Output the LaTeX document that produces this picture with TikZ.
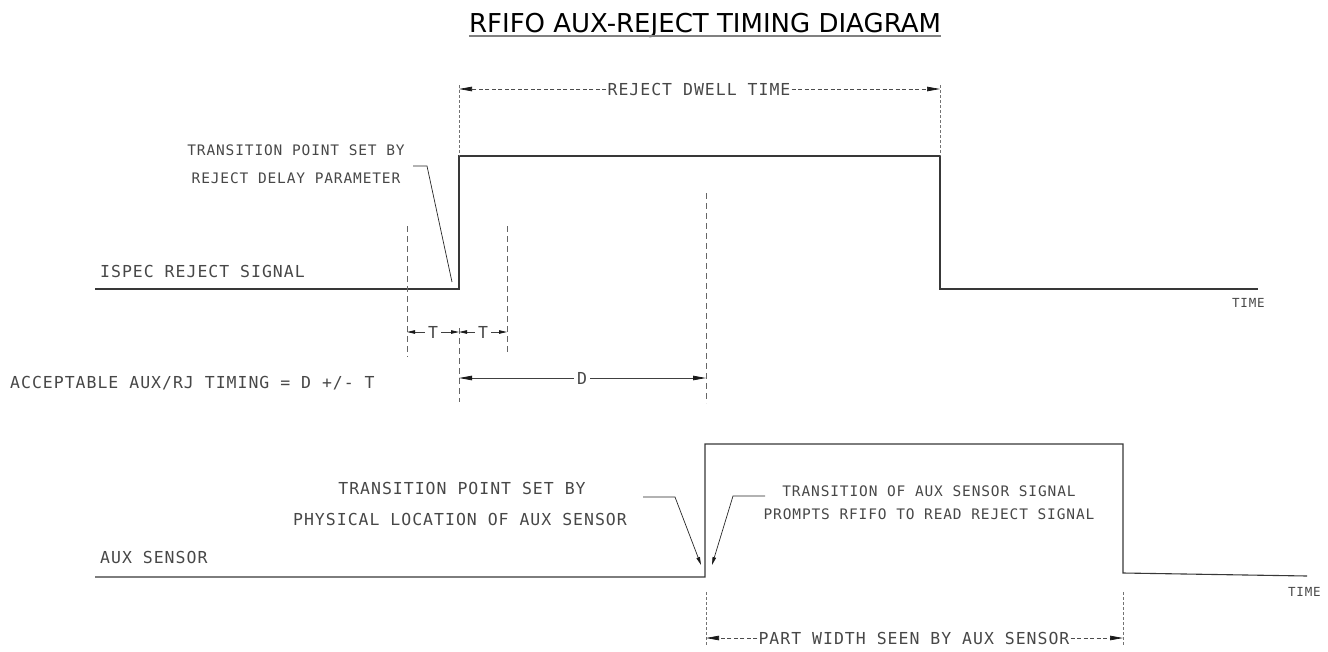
\documentclass[tikz,border=0pt]{standalone}
\usepackage{fontspec}
\usetikzlibrary{arrows.meta}
\newfontfamily\cad[LetterSpace=6]{DejaVu Sans Mono}
\newfontfamily\ttl{DejaVu Sans}
\begin{document}
\begin{tikzpicture}[x=1pt,y=-1pt,
  sig/.style={draw=black!78, line width=1.1pt},
  ext/.style={draw=black!60, line width=0.8pt, dash pattern=on 6pt off 4pt},
  extfine/.style={draw=black!55, line width=0.7pt, dash pattern=on 3pt off 2pt},
  dimline/.style={draw=black!75, line width=0.8pt},
  dashdim/.style={draw=black!70, line width=0.7pt, dash pattern=on 4pt off 2.5pt},
  leader/.style={draw=black!85, line width=0.7pt},
  tipL/.style={-{Triangle[length=13pt,width=4.5pt,color=black!90]}},
  tipS/.style={-{Triangle[length=8pt,width=3.5pt,color=black!90]}},
  big/.style={inner sep=0pt, font=\cad\fontsize{16.5}{18}\selectfont, text=black!72},
  small/.style={inner sep=0pt, font=\cad\fontsize{14.5}{16}\selectfont, text=black!72},
  tiny/.style={inner sep=0pt, font=\cad\fontsize{12.5}{14}\selectfont, text=black!72},
  title/.style={inner sep=0pt, font=\ttl\fontsize{26}{30}\selectfont, text=black}
]
\useasboundingbox (0,0) rectangle (1328,651);

% ---- title
\node[title, anchor=base] (title) at (705,32) {RFIFO AUX-REJECT TIMING DIAGRAM};
\draw[line width=1.6pt, black!50] ([yshift=-4pt]title.base west) -- ([yshift=-4pt]title.base east);

% ---- ISPEC reject signal
\coordinate (a0) at (95,289);
\coordinate (a1) at (459,289);
\coordinate (a2) at (459,156);
\coordinate (a3) at (940,156);
\coordinate (a4) at (940,289);
\coordinate (a5) at (1258,289);
\draw[sig] (a0) -- (a1) -- (a2) -- (a3) -- (a4) -- (a5);
\node[big, anchor=west] (ispec) at (100,271) {ISPEC REJECT SIGNAL};
\node[tiny, anchor=west] (time1) at (1232,303) {TIME};

% ---- reject dwell time
\coordinate (dw1) at (459,85);
\coordinate (dw2) at (940,85);
\coordinate (dwa) at (459,89);
\coordinate (dwb) at (940,89);
\draw[extfine] (dw1) -- (a2);
\draw[extfine] (dw2) -- (a3);
\node[big, inner xsep=1pt] (dwell) at (699,89) {REJECT DWELL TIME};
\draw[dashdim, tipL] (dwell.west) -- (dwa);
\draw[dashdim, tipL] (dwell.east) -- (dwb);

% ---- transition annotation (top)
\node[small] (ann1) at (296,150) {TRANSITION POINT SET BY};
\node[small] (ann2) at (296,178) {REJECT DELAY PARAMETER};
\coordinate (l1a) at (413,166);
\coordinate (l1b) at (427,166);
\coordinate (l1c) at (452,282);
\draw[leader] (l1a) -- (l1b) -- (l1c);

% ---- extension lines
\coordinate (e1t) at (407,226); \coordinate (e1b) at (407,357);
\coordinate (e2t) at (507,226); \coordinate (e2b) at (507,353);
\coordinate (e3t) at (459,328); \coordinate (e3b) at (459,402);
\coordinate (e4t) at (706,193); \coordinate (e4b) at (706,403);
\draw[ext] (e1t) -- (e1b);
\draw[ext] (e2t) -- (e2b);
\draw[ext] (e3t) -- (e3b);
\draw[ext] (e4t) -- (e4b);

% ---- T dimensions
\coordinate (t0) at (407,332);
\coordinate (t1) at (459,332);
\coordinate (t2) at (507,332);
\node[big, inner xsep=3pt] (T1) at (433,332) {T};
\node[big, inner xsep=3pt] (T2) at (483,332) {T};
\draw[dimline, tipS] (T1.west) -- (t0);
\draw[dimline, tipS] (T1.east) -- (t1);
\draw[dimline, tipS] (T2.west) -- (t1);
\draw[dimline, tipS] (T2.east) -- (t2);

% ---- D dimension
\coordinate (dd0) at (459,378);
\coordinate (dd1) at (706,378);
\node[big, inner xsep=3pt] (D) at (582,378) {D};
\draw[dimline, tipL] (D.west) -- (dd0);
\draw[dimline, tipL] (D.east) -- (dd1);

\node[big, anchor=west] (acc) at (10,383) {ACCEPTABLE AUX/RJ TIMING = D +/- T};

% ---- AUX sensor signal
\coordinate (b0) at (95,577);
\coordinate (b1) at (705,577);
\coordinate (b2) at (705,444);
\coordinate (b3) at (1123,444);
\coordinate (b4) at (1123,573);
\coordinate (b5) at (1307,576);
\draw[sig] (b0) -- (b1) -- (b2) -- (b3) -- (b4) -- (b5);
\node[big, anchor=west] (aux) at (100,557) {AUX SENSOR};
\node[tiny, anchor=west] (time2) at (1288,592) {TIME};

% ---- bottom annotations
\node[big] (tp1) at (462,488) {TRANSITION POINT SET BY};
\node[big] (tp2) at (460,519) {PHYSICAL LOCATION OF AUX SENSOR};
\coordinate (l2a) at (643,497);
\coordinate (l2b) at (675,497);
\coordinate (l2c) at (701,565);
\draw[leader, tipS] (l2a) -- (l2b) -- (l2c);

\node[small] (to1) at (929,491) {TRANSITION OF AUX SENSOR SIGNAL};
\node[small] (to2) at (929,514) {PROMPTS RFIFO TO READ REJECT SIGNAL};
\coordinate (l3a) at (765,496);
\coordinate (l3b) at (733,496);
\coordinate (l3c) at (712,565);
\draw[leader, tipS] (l3a) -- (l3b) -- (l3c);

% ---- part width dimension
\coordinate (p1t) at (706,592); \coordinate (p1b) at (706,646);
\coordinate (p2t) at (1123,592); \coordinate (p2b) at (1123,646);
\draw[extfine] (p1t) -- (p1b);
\draw[extfine] (p2t) -- (p2b);
\coordinate (pwa) at (706,638);
\coordinate (pwb) at (1123,638);
\node[big, inner xsep=1pt] (pw) at (914,638) {PART WIDTH SEEN BY AUX SENSOR};
\draw[dashdim, tipL] (pw.west) -- (pwa);
\draw[dashdim, tipL] (pw.east) -- (pwb);
\end{tikzpicture}
\end{document}
